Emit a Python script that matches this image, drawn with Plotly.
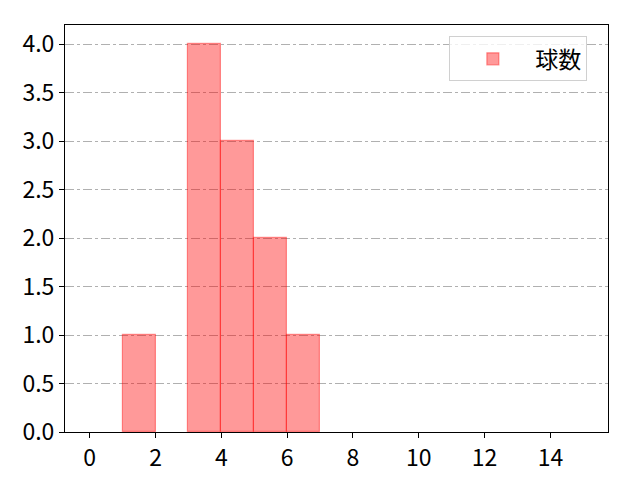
import plotly.graph_objects as go

# histogram bins (left edges) and counts
bin_left = [1, 3, 4, 5, 6]
counts = [1, 4, 3, 2, 1]
bin_width = 1
series_name = "球数"

x_ticks = [0, 2, 4, 6, 8, 10, 12, 14]
y_ticks = [0.0, 0.5, 1.0, 1.5, 2.0, 2.5, 3.0, 3.5, 4.0]

fig = go.Figure()
fig.add_trace(go.Bar(
    x=[b + bin_width / 2 for b in bin_left],
    y=counts,
    width=bin_width,
    name=series_name,
    marker=dict(color="rgba(255,0,0,0.4)",
                line=dict(color="rgba(255,0,0,0.4)", width=1.2)),
    showlegend=True,
))

axis_common = dict(
    showline=True, linecolor="black", linewidth=1, mirror=True,
    ticks="outside", ticklen=5, tickwidth=1, tickcolor="black",
    zeroline=False, automargin=False,
    tickfont=dict(size=23, color="black"),
)

fig.update_xaxes(range=[-0.75, 15.75], tickvals=x_ticks, showgrid=False, **axis_common)
fig.update_yaxes(range=[0, 4.2], tickvals=y_ticks, ticktext=[f"{v:.1f}" for v in y_ticks],
                 showgrid=True, gridcolor="#b0b0b0", gridwidth=1, griddash="dashdot",
                 **axis_common)

# the page body adds an 8px offset, margins account for it
fig.update_layout(
    width=640, height=480,
    margin=dict(l=57, r=40, t=17, b=56),
    paper_bgcolor="white", plot_bgcolor="white",
    font=dict(family="Noto Sans CJK JP", color="black"),
    bargap=0,
    legend=dict(x=0.962, y=0.972, xanchor="right", yanchor="top",
                bordercolor="#d0d0d0", borderwidth=1, bgcolor="rgba(255,255,255,0.8)",
                font=dict(size=23), itemwidth=75),
)

fig.write_html("out.html")
